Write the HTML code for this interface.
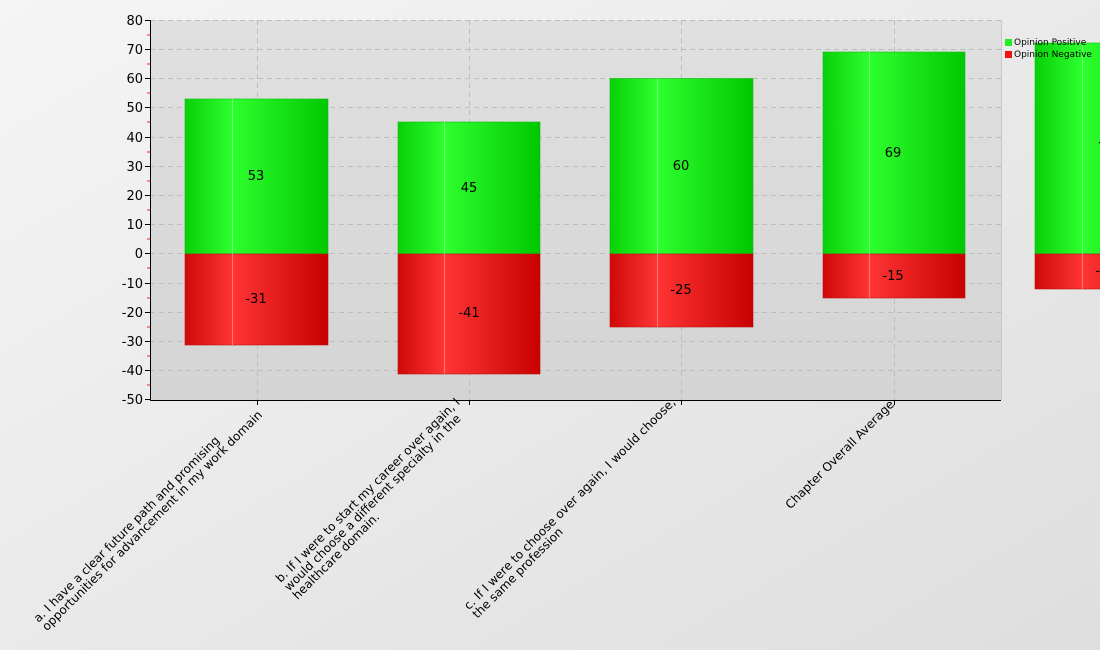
<!DOCTYPE html>
<html><head><meta charset="utf-8"><style>
html,body{margin:0;padding:0;width:1100px;height:650px;overflow:hidden;font-family:"DejaVu Sans","Liberation Sans",sans-serif}
.lbl{position:absolute;white-space:pre;font-size:12px;line-height:12px;color:#000;text-align:left;transform-origin:100% 0;transform:rotate(-45deg)}
</style></head><body>
<svg width="1100" height="650" style="position:absolute;left:0;top:0" font-family="DejaVu Sans, Liberation Sans, sans-serif">
<defs>
<linearGradient id="bg" x1="0" y1="0" x2="1" y2="1"><stop offset="0" stop-color="#f5f5f5"/><stop offset="1" stop-color="#dedede"/></linearGradient>
<linearGradient id="pa" x1="0" y1="0" x2="0" y2="1"><stop offset="0" stop-color="#e0e0e0"/><stop offset="1" stop-color="#d4d4d4"/></linearGradient>
<linearGradient id="g" x1="0" y1="0" x2="1" y2="0"><stop offset="0" stop-color="#08d008"/><stop offset="0.33" stop-color="#2eff2e"/><stop offset="1" stop-color="#00c800"/></linearGradient>
<linearGradient id="r" x1="0" y1="0" x2="1" y2="0"><stop offset="0" stop-color="#d00808"/><stop offset="0.33" stop-color="#ff3535"/><stop offset="1" stop-color="#c80000"/></linearGradient>
</defs>
<rect width="1100" height="650" fill="url(#bg)"/>
<rect x="150" y="20" width="851" height="380" fill="url(#pa)"/>
<g stroke="#bdbdbd" stroke-dasharray="5,4" stroke-width="1">
<line x1="150" x2="1001" y1="20.5" y2="20.5"/><line x1="150" x2="1001" y1="49.5" y2="49.5"/><line x1="150" x2="1001" y1="78.5" y2="78.5"/><line x1="150" x2="1001" y1="107.5" y2="107.5"/><line x1="150" x2="1001" y1="137.5" y2="137.5"/><line x1="150" x2="1001" y1="166.5" y2="166.5"/><line x1="150" x2="1001" y1="195.5" y2="195.5"/><line x1="150" x2="1001" y1="224.5" y2="224.5"/><line x1="150" x2="1001" y1="253.5" y2="253.5"/><line x1="150" x2="1001" y1="283.5" y2="283.5"/><line x1="150" x2="1001" y1="312.5" y2="312.5"/><line x1="150" x2="1001" y1="341.5" y2="341.5"/><line x1="150" x2="1001" y1="370.5" y2="370.5"/>
<line x1="257.5" x2="257.5" y1="20" y2="400"/><line x1="469.5" x2="469.5" y1="20" y2="400"/><line x1="681.5" x2="681.5" y1="20" y2="400"/><line x1="894.5" x2="894.5" y1="20" y2="400"/>
</g>
<line x1="1001.5" x2="1001.5" y1="20" y2="400" stroke="#c8c8c8"/>
<g>
<rect x="185" y="99" width="143" height="155" fill="url(#g)" stroke="#11bb11" stroke-width="0.6"/>
<rect x="185" y="254" width="143" height="91" fill="url(#r)" stroke="#bb1111" stroke-width="0.6"/>
<line x1="232.5" x2="232.5" y1="99" y2="345" stroke="#ffffff" stroke-opacity="0.35"/>
<rect x="398" y="122" width="142" height="132" fill="url(#g)" stroke="#11bb11" stroke-width="0.6"/>
<rect x="398" y="254" width="142" height="120" fill="url(#r)" stroke="#bb1111" stroke-width="0.6"/>
<line x1="444.5" x2="444.5" y1="122" y2="374" stroke="#ffffff" stroke-opacity="0.35"/>
<rect x="610" y="78.5" width="143" height="175.5" fill="url(#g)" stroke="#11bb11" stroke-width="0.6"/>
<rect x="610" y="254" width="143" height="73" fill="url(#r)" stroke="#bb1111" stroke-width="0.6"/>
<line x1="657.5" x2="657.5" y1="78" y2="327" stroke="#ffffff" stroke-opacity="0.35"/>
<rect x="823" y="52" width="142" height="202" fill="url(#g)" stroke="#11bb11" stroke-width="0.6"/>
<rect x="823" y="254" width="142" height="44" fill="url(#r)" stroke="#bb1111" stroke-width="0.6"/>
<line x1="869.5" x2="869.5" y1="52" y2="298" stroke="#ffffff" stroke-opacity="0.35"/>
<rect x="1035" y="43" width="143" height="211" fill="url(#g)" stroke="#11bb11" stroke-width="0.6"/>
<rect x="1035" y="254" width="143" height="35" fill="url(#r)" stroke="#bb1111" stroke-width="0.6"/>
<line x1="1082.5" x2="1082.5" y1="43" y2="289" stroke="#ffffff" stroke-opacity="0.35"/>
</g>
<g font-size="13" text-anchor="middle" fill="#000">
<text x="256" y="180">53</text><text x="256" y="303">-31</text>
<text x="469" y="192">45</text><text x="469" y="317">-41</text>
<text x="681" y="170">60</text><text x="681" y="294">-25</text>
<text x="893" y="157">69</text><text x="893" y="280">-15</text>
<text x="1106" y="152">72</text><text x="1106" y="275">-12</text>
</g>
<line x1="150.5" x2="150.5" y1="20" y2="400" stroke="#000"/>
<line x1="150" x2="1001" y1="400.5" y2="400.5" stroke="#000"/>
<g stroke="#000">
<line x1="145" x2="150" y1="20.5" y2="20.5"/><line x1="145" x2="150" y1="49.5" y2="49.5"/><line x1="145" x2="150" y1="78.5" y2="78.5"/><line x1="145" x2="150" y1="107.5" y2="107.5"/><line x1="145" x2="150" y1="137.5" y2="137.5"/><line x1="145" x2="150" y1="166.5" y2="166.5"/><line x1="145" x2="150" y1="195.5" y2="195.5"/><line x1="145" x2="150" y1="224.5" y2="224.5"/><line x1="145" x2="150" y1="253.5" y2="253.5"/><line x1="145" x2="150" y1="283.5" y2="283.5"/><line x1="145" x2="150" y1="312.5" y2="312.5"/><line x1="145" x2="150" y1="341.5" y2="341.5"/><line x1="145" x2="150" y1="370.5" y2="370.5"/><line x1="145" x2="150" y1="399.5" y2="399.5"/>
<line x1="257.5" x2="257.5" y1="400" y2="405"/><line x1="469.5" x2="469.5" y1="400" y2="405"/><line x1="681.5" x2="681.5" y1="400" y2="405"/><line x1="894.5" x2="894.5" y1="400" y2="405"/>
</g>
<g stroke="#ff2020">
<line x1="147" x2="150" y1="35" y2="35"/><line x1="147" x2="150" y1="64" y2="64"/><line x1="147" x2="150" y1="93" y2="93"/><line x1="147" x2="150" y1="122" y2="122"/><line x1="147" x2="150" y1="152" y2="152"/><line x1="147" x2="150" y1="181" y2="181"/><line x1="147" x2="150" y1="210" y2="210"/><line x1="147" x2="150" y1="239" y2="239"/><line x1="147" x2="150" y1="268" y2="268"/><line x1="147" x2="150" y1="298" y2="298"/><line x1="147" x2="150" y1="327" y2="327"/><line x1="147" x2="150" y1="356" y2="356"/><line x1="147" x2="150" y1="385" y2="385"/>
</g>
<g font-size="13" text-anchor="end" fill="#000">
<text x="143" y="25">80</text><text x="143" y="54">70</text><text x="143" y="83">60</text><text x="143" y="112">50</text><text x="143" y="142">40</text><text x="143" y="171">30</text><text x="143" y="200">20</text><text x="143" y="229">10</text><text x="143" y="258">0</text><text x="143" y="288">-10</text><text x="143" y="317">-20</text><text x="143" y="346">-30</text><text x="143" y="375">-40</text><text x="143" y="404">-50</text>
</g>
<rect x="1005" y="39" width="7" height="7" fill="#22ee22"/>
<rect x="1005" y="51" width="7" height="7" fill="#ee1111"/>
<g font-size="9" fill="#000"><text x="1014" y="45">Opinion Positive</text><text x="1014" y="57">Opinion Negative</text></g>
</svg>
<div class="lbl" style="right:853px;top:400px">a. I have a clear future path and promising
opportunities for advancement in my work domain</div>
<div class="lbl" style="right:646px;top:396px">b. If I were to start my career over again, I
would choose a different specialty in the
healthcare domain.</div>
<div class="lbl" style="right:431px;top:396px">c. If I were to choose over again, I would choose,
the same profession</div>
<div class="lbl" style="right:212px;top:398px">Chapter Overall Average</div>
</body></html>
